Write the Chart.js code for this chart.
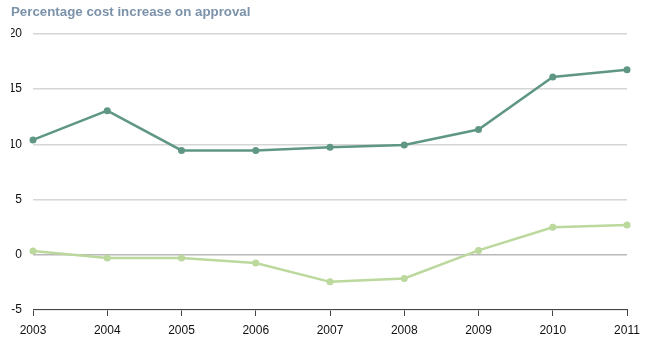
<!DOCTYPE html>
<html>
<head>
<meta charset="utf-8">
<script src="https://cdn.jsdelivr.net/npm/chart.js@4"></script>
<style>
  html, body { margin: 0; padding: 0; background: #fff; }
  #wrap { width: 648px; height: 343px; }
</style>
</head>
<body>
<div id="wrap"><canvas id="myChart" width="648" height="343"></canvas></div>
<script>
const years = ["2003", "2004", "2005", "2006", "2007", "2008", "2009", "2010", "2011"];
const upperSeries = [10.4, 13.05, 9.45, 9.45, 9.75, 9.95, 11.35, 16.1, 16.75];
const lowerSeries = [0.35, -0.3, -0.3, -0.75, -2.45, -2.15, 0.4, 2.5, 2.7];
const yTicks = [-5, 0, 5, 10, 15, 20];

const titleText = "Percentage cost increase on approval";
const fontFamily = "'Liberation Sans', Arial, Helvetica, sans-serif";

const config = {
  type: "line",
  data: {
    labels: years,
    datasets: [
      {
        label: "upper",
        data: upperSeries,
        borderColor: "#5f9784",
        backgroundColor: "#5f9784",
        borderWidth: 2.5,
        pointRadius: 3.5,
        pointBorderWidth: 0,
        tension: 0,
      },
      {
        label: "lower",
        data: lowerSeries,
        borderColor: "#bbd89d",
        backgroundColor: "#bbd89d",
        borderWidth: 2.5,
        pointRadius: 3.5,
        pointBorderWidth: 0,
        tension: 0,
      },
    ],
  },
  options: {
    responsive: false,
    animation: false,
    layout: { padding: { top: 4, left: 11, right: 21, bottom: 0 } },
    plugins: {
      legend: { display: false },
      tooltip: { enabled: false },
      title: {
        display: true,
        text: titleText,
        align: "start",
        color: "#7b92aa",
        font: { family: fontFamily, size: 13.3, weight: "bold" },
        padding: { top: 0, bottom: 14 },
      },
    },
    scales: {
      x: {
        offset: false,
        grid: {
          drawOnChartArea: false,
          drawTicks: true,
          tickLength: 6,
          color: "#444",
        },
        border: { display: true, color: "#444", width: 1 },
        ticks: {
          color: "#111",
          font: { family: fontFamily, size: 12 },
          padding: 7,
          maxRotation: 0,
          autoSkip: false,
        },
        afterFit: (scale) => { scale.height = 33; },
      },
      y: {
        min: -5,
        max: 20,
        afterBuildTicks: (scale) => {
          scale.ticks = yTicks.map((v) => ({ value: v }));
        },
        grid: {
          drawTicks: false,
          color: (ctx) => (ctx.tick && ctx.tick.value === 0 ? "#b8b8b8" : "#d6d6d6"),
          lineWidth: 1.5,
        },
        border: { display: false },
        ticks: {
          color: "#111",
          font: { family: fontFamily, size: 12 },
          padding: 11,
        },
        afterFit: (scale) => { scale.width = 22; },
      },
    },
  },
};

const myChart = document.getElementById("myChart");
new Chart(myChart, config);
</script>
</body>
</html>
